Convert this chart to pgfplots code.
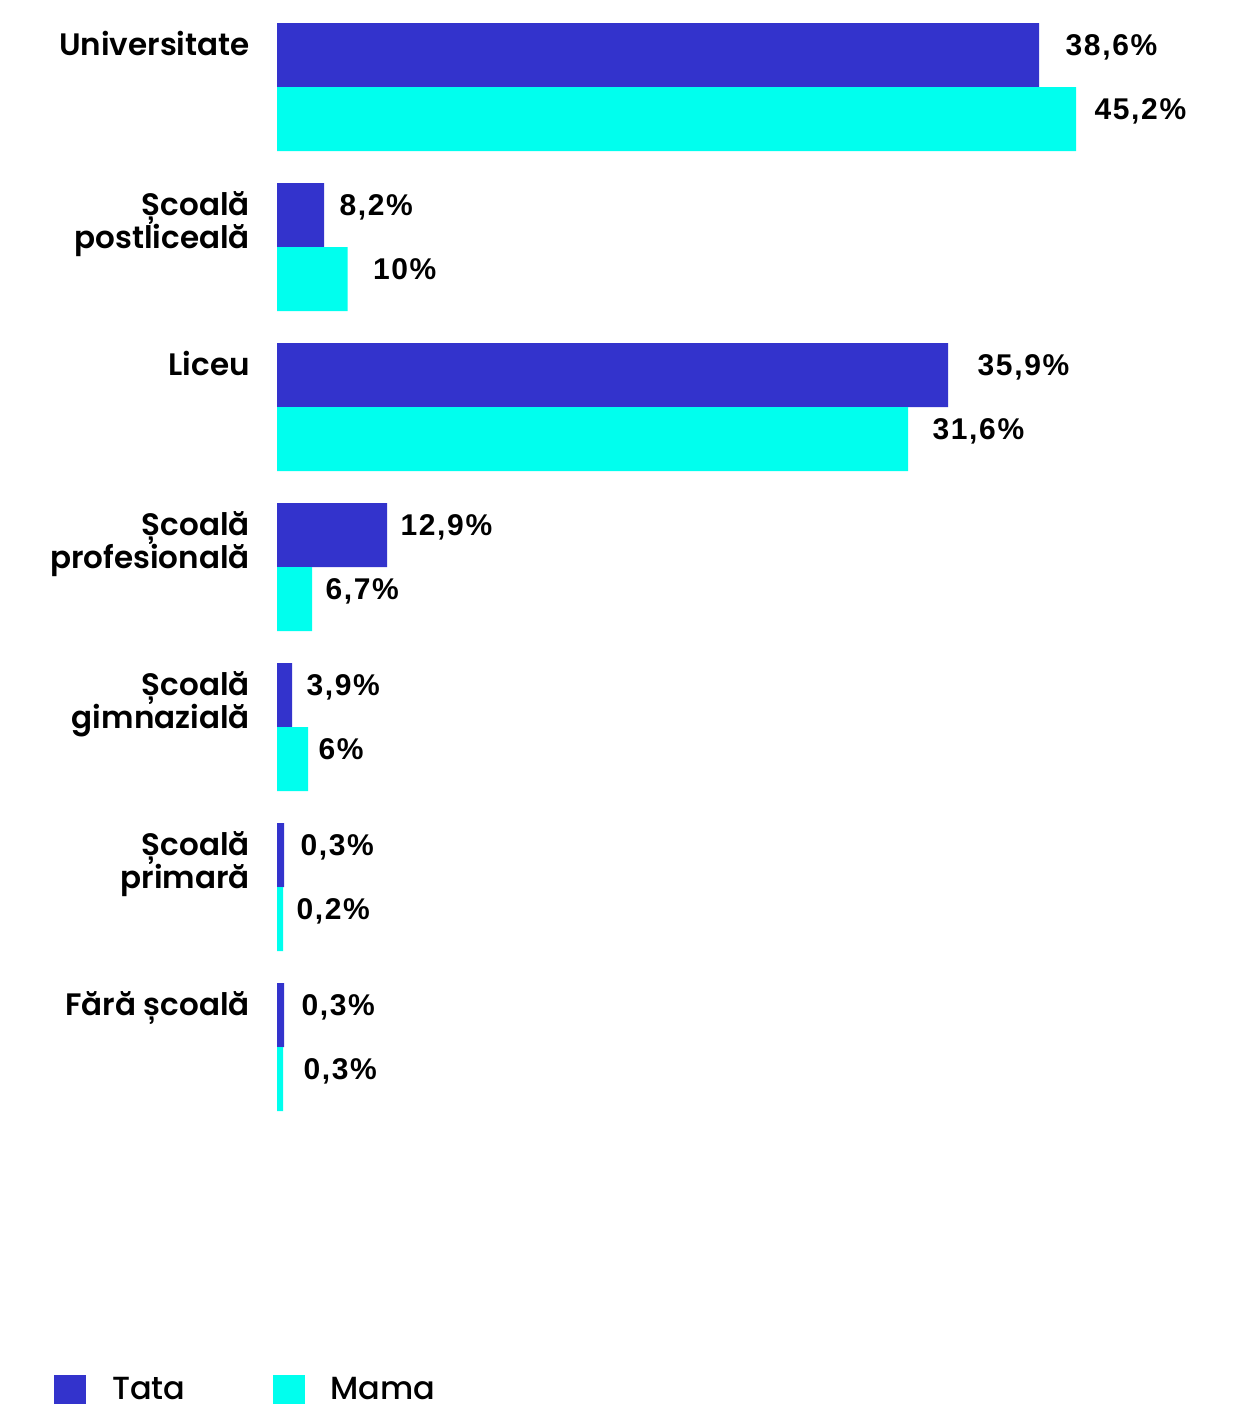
\documentclass[border=0pt]{standalone}
\usepackage{fontspec}
\usepackage{pgfplots}
\usepackage{pgfplotstable}
\pgfplotsset{compat=1.18}
\newfontfamily\catfont{Poppins}[UprightFont={* SemiBold}]
\newfontfamily\legfont{Poppins}[UprightFont={* Medium}]
\newfontfamily\valfont{Liberation Sans}[LetterSpace=5.5]
\definecolor{tata}{HTML}{3333CC}
\definecolor{mama}{HTML}{00FFEE}

\pgfplotstableread{
y len val dx
-0.2 38.60 38.6 13
0.8 2.38 8.2 7.5
1.8 33.99 35.9 14.5
2.8 5.57 12.9 6.5
3.8 0.76 3.9 7
4.8 0.355 0.3 8
5.8 0.355 0.3 8.5
}\tatatab
\pgfplotstableread{
y len val dx
0.2 40.47 45.2 9
1.2 3.57 10 12.5
2.2 31.96 31.6 12
3.2 1.77 6.7 6.5
4.2 1.57 6 5
5.2 0.30 0.2 6.5
6.2 0.30 0.3 10
}\mamatab

\begin{document}
\begin{tikzpicture}
\begin{axis}[
  scale only axis, width=620pt, height=702pt,
  xmin=-14.03, xmax=48.78, ymin=-0.54375, ymax=8.23125, y dir=reverse,
  axis line style={draw=none}, xtick=\empty, major tick length=0pt,
  ytick={-0.2,0.8,1.8,2.8,3.8,4.8,5.8},
  yticklabels={
    {Universitate},
    {\begin{tabular}[t]{@{}r@{}}Școală\\postliceală\end{tabular}},
    {Liceu},
    {\begin{tabular}[t]{@{}r@{}}Școală\\profesională\end{tabular}},
    {\begin{tabular}[t]{@{}r@{}}Școală\\gimnazială\end{tabular}},
    {\begin{tabular}[t]{@{}r@{}}Școală\\primară\end{tabular}},
    {Fără școală}},
  yticklabel style={anchor=base east, inner sep=0pt, xshift=125pt, font=\catfont\fontsize{15.5}{16}\selectfont},
  clip=false,
  xbar, bar width=32pt, bar shift=0pt,
  point meta=explicit,
  /pgf/number format/assume math mode=true,
  visualization depends on={\thisrow{dx} \as \dx},
  nodes near coords={\pgfmathprintnumber[fixed,precision=1,use comma,assume math mode=true]{\pgfplotspointmeta}\%},
  every node near coord/.append style={anchor=base west, inner sep=0pt, xshift=\dx pt, text=black, font=\valfont\bfseries\fontsize{15}{15}\selectfont},
  legend columns=2,
  legend style={at={(0.04355,0)}, anchor=south west, draw=none, fill=none, inner sep=0pt, outer sep=0pt,
    font=\legfont\fontsize{16}{16}\selectfont, nodes={inner sep=0pt, anchor=base west},
    /tikz/every even column/.append style={column sep=43.5pt}},
  legend image code/.code={\fill[#1] (0pt,-2.5pt) rectangle (16pt,12pt); \path (29pt,0pt);},
]
\addplot[draw=none, fill=tata] table[x=len, y=y, meta=val] {\tatatab};
\addlegendentry{Tata}
\addplot[draw=none, fill=mama] table[x=len, y=y, meta=val] {\mamatab};
\addlegendentry{Mama}
\path (rel axis cs:0,0) rectangle (rel axis cs:1,1);
\end{axis}
\end{tikzpicture}
\end{document}
